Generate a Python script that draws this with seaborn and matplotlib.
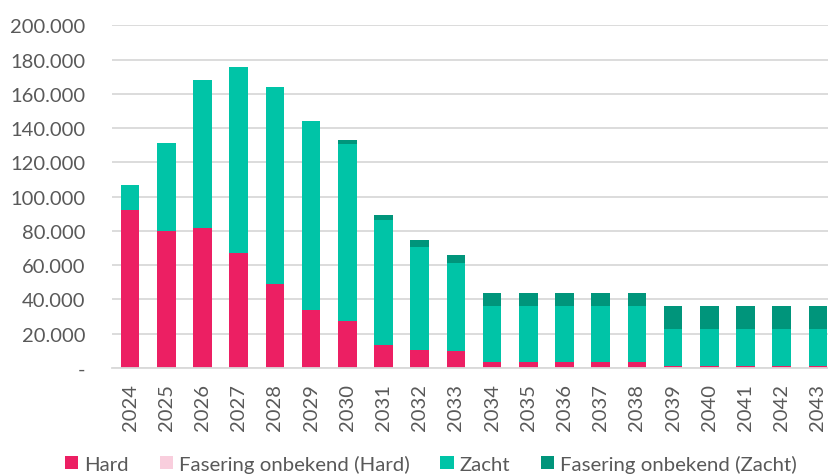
import matplotlib
matplotlib.use("Agg")
import matplotlib.pyplot as plt
import matplotlib.ticker as mticker
from matplotlib.patches import Patch
import seaborn as sns
import pandas as pd
import numpy as np

years = [str(y) for y in range(2024, 2044)]
hard = [92000, 80000, 81500, 67000, 49000, 34000, 27400, 13400, 10300, 9700,
        3300, 3300, 3300, 3300, 3300, 1000, 1000, 1000, 1000, 1000]
fasering_hard = [0] * 20
zacht = [15000, 51500, 86500, 108500, 115200, 110200, 103400, 73200, 60300, 51300,
         32900, 32900, 32900, 32900, 32900, 21700, 21700, 21700, 21700, 21700]
fasering_zacht = [0, 0, 0, 0, 0, 0, 2100, 2800, 4200, 5100,
                  7500, 7500, 7500, 7500, 7500, 13300, 13300, 13300, 13300, 13300]

series_names = ["Hard", "Fasering onbekend (Hard)", "Zacht", "Fasering onbekend (Zacht)"]
colors = ["#EC1F63", "#F9CEDD", "#00C4A7", "#00957B"]

df = pd.DataFrame({"year": years, "Hard": hard, "Fasering onbekend (Hard)": fasering_hard,
                   "Zacht": zacht, "Fasering onbekend (Zacht)": fasering_zacht})
cum = df[series_names].cumsum(axis=1)

sns.set_theme(style="white")
plt.rcParams["font.family"] = ["Lato", "DejaVu Sans"]
txt = "#595959"

fig = plt.figure(figsize=(8.29, 4.77), dpi=100)
ax = fig.add_axes([112 / 829, 108 / 477, 724 / 829, 342.7 / 477])

for name, col in reversed(list(zip(series_names, colors))):
    sns.barplot(x=df["year"], y=cum[name], color=col, width=0.51, ax=ax,
                saturation=1, linewidth=0)

ax.set_ylim(0, 200000)
ax.set_xlim(-0.5, 19.5)
ax.yaxis.set_major_locator(mticker.MultipleLocator(20000))
ax.yaxis.set_major_formatter(mticker.FuncFormatter(
    lambda v, p: "-" if v == 0 else f"{int(v):,}".replace(",", ".")))
ax.grid(axis="y", color="#D9D9D9", linewidth=1.3)
ax.set_axisbelow(True)
for s in ["top", "right", "left"]:
    ax.spines[s].set_visible(False)
ax.spines["bottom"].set_color("#D9D9D9")
ax.spines["bottom"].set_linewidth(1.3)
ax.set_xlabel("")
ax.set_ylabel("")
ax.tick_params(axis="y", length=0, pad=19, labelsize=14.5, labelcolor=txt)
ax.tick_params(axis="x", length=0, pad=11, labelsize=14.5, labelcolor=txt, rotation=90)

handles = [Patch(facecolor=c, edgecolor="none") for c in colors]
fig.legend(handles, series_names, loc="center", bbox_to_anchor=(0.52, 0.026),
           ncol=4, frameon=False, fontsize=14.7, labelcolor=txt,
           handlelength=0.65, handleheight=0.65, handletextpad=0.3,
           columnspacing=1.5, borderpad=0, borderaxespad=0)

fig.savefig("out.png", dpi=100)
